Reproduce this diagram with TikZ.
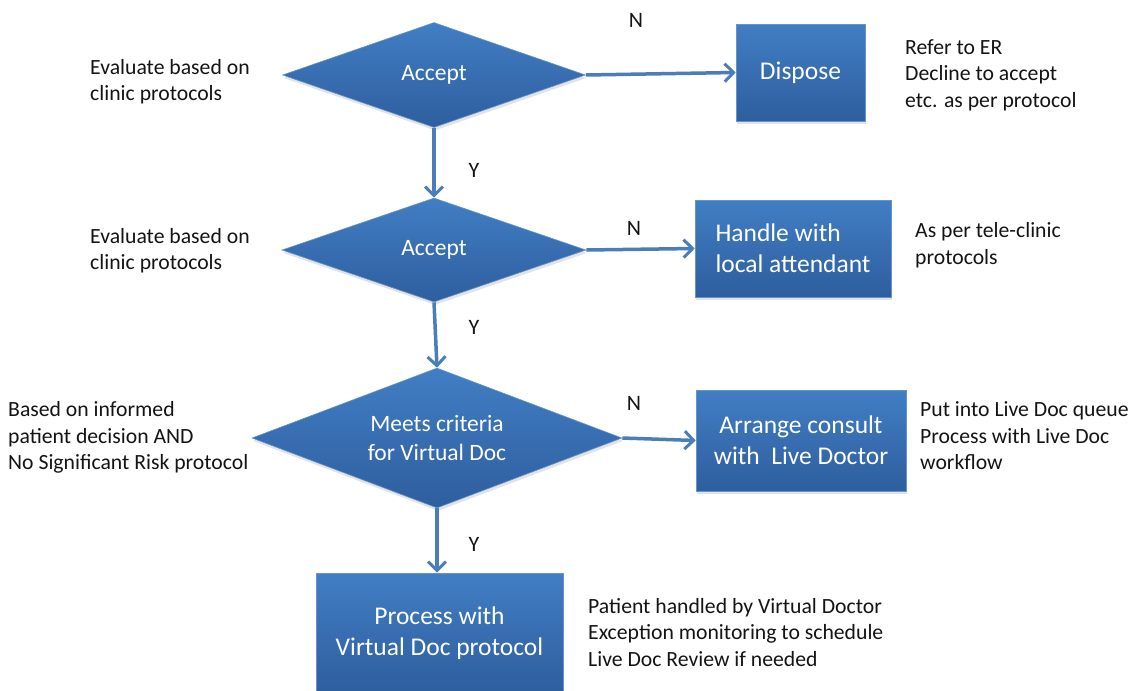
\documentclass[tikz,border=0pt]{standalone}
\usepackage{fontspec}
\setmainfont{Carlito}
\usetikzlibrary{shapes.geometric,arrows.meta,shadows}
\definecolor{boxtop}{RGB}{65,126,196}
\definecolor{boxbot}{RGB}{46,94,158}
\definecolor{boxedge}{RGB}{100,148,205}
\definecolor{arrowblue}{RGB}{74,126,187}
\definecolor{txt}{RGB}{20,20,20}
\begin{document}
\begin{tikzpicture}[x=1pt,y=-1pt,
  blockfill/.style={top color=boxtop, bottom color=boxbot, draw=boxedge, line width=0.6pt,
    drop shadow={opacity=0.22, shadow xshift=1pt, shadow yshift=-3pt}},
  decision/.style={blockfill, diamond, aspect=2.8, inner sep=0pt, text=white,
    font=\fontsize{23.5}{29}\selectfont, align=center},
  process/.style={blockfill, rectangle, inner sep=0pt, text=white,
    font=\fontsize{25.5}{31}\selectfont, align=center},
  note/.style={anchor=base west, inner sep=0pt, align=left, text=txt,
    font=\fontsize{21.7}{26.5}\selectfont},
  yn/.style={anchor=base, inner sep=0pt, text=txt, font=\fontsize{22}{26}\selectfont},
  flow/.style={draw=arrowblue, line width=3.5pt,
    -{Straight Barb[length=9pt,width=18pt,line width=3pt]}}
]
\useasboundingbox (0,0) rectangle (1133,691);

% decisions
\node[decision, minimum width=303pt, minimum height=105pt] (d1) at (434,75) {Accept};
\node[decision, minimum width=304pt, minimum height=104pt] (d2) at (434,250) {Accept};
\node[decision, minimum width=370pt, minimum height=140pt] (d3) at (437,438) {Meets criteria\\for Virtual Doc};

% process boxes
\node[process, minimum width=129pt, minimum height=97pt] (dispose) at (800.5,72.5) {Dispose};
\node[process, minimum width=196pt, minimum height=97pt, align=left] (handle) at (793,248.5) {Handle with\\local attendant};
\node[process, minimum width=210pt, minimum height=101pt] (arrange) at (801,440.5) {Arrange consult\\with\ \ Live Doctor};
\node[process, minimum width=247pt, minimum height=120pt] (proc) at (439.5,633) {Process with\\Virtual Doc protocol};

% connectors
\draw[flow] (d1.east) -- (dispose.west);
\draw[flow] (d2.east) -- (handle.west);
\draw[flow] (d3.east) -- (arrange.west);
\draw[flow] (d1.south) -- (d2.north);
\draw[flow] (d2.south) -- (d3.north);
\draw[flow] (d3.south) -- (d3.south |- proc.north);

% Y / N labels
\node[yn] (n1) at (636,27) {N};
\node[yn] (y1) at (474,177) {Y};
\node[yn] (n2) at (634,235) {N};
\node[yn] (y2) at (474,334) {Y};
\node[yn] (n3) at (634,410) {N};
\node[yn] (y3) at (474,551) {Y};

% notes (anchored at the baseline of their last line)
\node[note] (l1) at (90,100.5) {Evaluate based on\\clinic protocols};
\node[note] (l2) at (90,269.5) {Evaluate based on\\clinic protocols};
\node[note] (l3) at (8,469.5) {Based on informed\\patient decision AND\\No Significant Risk protocol};
\node[note] (r1) at (905,107) {Refer to ER\\Decline to accept\\etc. as per protocol};
\node[note] (r2) at (915,264) {As per tele-clinic\\protocols};
\node[note] (r3) at (920,469.5) {Put into Live Doc queue\\Process with Live Doc\\workflow};
\node[note] (r4) at (588,666) {Patient handled by Virtual Doctor\\Exception monitoring to schedule\\Live Doc Review if needed};
\end{tikzpicture}
\end{document}
